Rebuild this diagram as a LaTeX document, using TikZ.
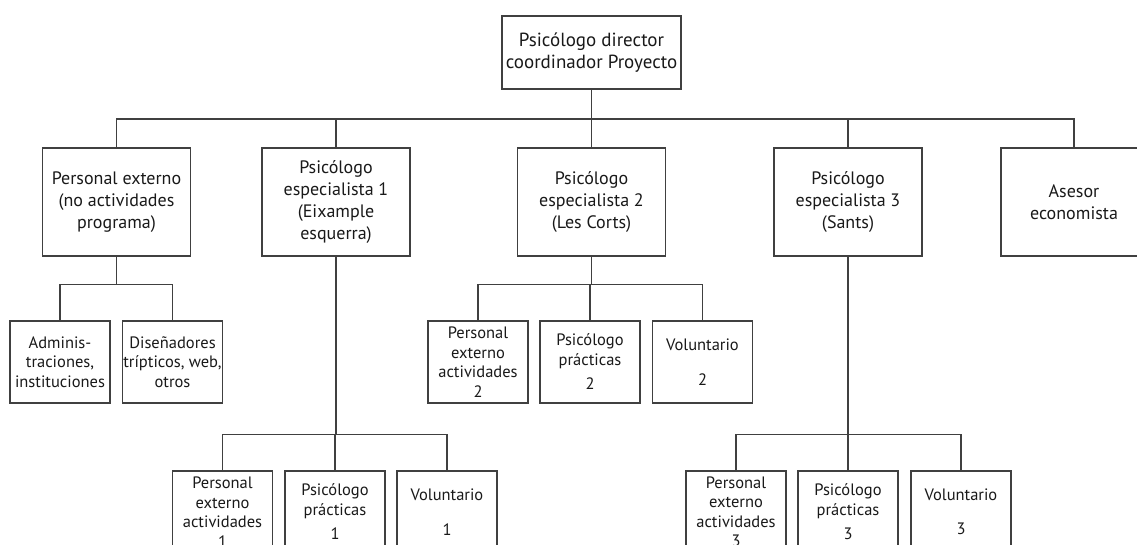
\documentclass[tikz,border=0pt]{standalone}
\usepackage{fontspec}
\setmainfont{PT Sans}
\begin{document}
\begin{tikzpicture}[x=1pt,y=-1pt,
  box/.style={draw=black!75,line width=1.2pt,align=center,inner sep=0pt,
    text=black!90},
  bigbox/.style={box,minimum width=148pt,minimum height=108pt,
    font=\fontsize{18}{22}\selectfont},
  smallbox/.style={box,minimum width=100pt,minimum height=82pt,
    font=\fontsize{16.5}{19.5}\selectfont},
  conn/.style={draw=black!75,line width=1.2pt}]
\useasboundingbox (0,0) rectangle (1137,545);
\clip (0,0) rectangle (1137,545);
% top
\node[box,minimum width=179pt,minimum height=73pt,font=\fontsize{19}{22}\selectfont] (top) at (591.5,52.5) {Psicólogo director\\coordinador Proyecto};
% level 1
\node[bigbox] (pe) at (116.5,202) {Personal externo\\(no actividades\\programa)};
\node[bigbox] (p1) at (336,202) {Psicólogo\\especialista 1\\(Eixample\\esquerra)};
\node[bigbox] (p2) at (591.5,202) {Psicólogo\\especialista 2\\(Les Corts)};
\node[bigbox] (p3) at (848,202) {Psicólogo\\especialista 3\\(Sants)};
\node[bigbox,minimum width=146pt] (as) at (1074,202) {Asesor\\economista};
% level 2
\node[smallbox] (adm) at (60,362) {Adminis-\\traciones,\\instituciones};
\node[smallbox] (dis) at (172.5,362) {Diseñadores\\trípticos, web,\\otros};
\node[smallbox] (pea2) at (478,362) {Personal\\externo\\actividades\\2};
\node[smallbox] (psp2) at (590,362) {Psicólogo\\prácticas\\[5pt]2};
\node[smallbox] (vol2) at (702.5,362) {Voluntario\\[15pt]2};
% level 3
\node[smallbox] (pea1) at (222.5,512) {Personal\\externo\\actividades\\1};
\node[smallbox] (psp1) at (335,512) {Psicólogo\\prácticas\\[5pt]1};
\node[smallbox] (vol1) at (447,512) {Voluntario\\[15pt]1};
\node[smallbox] (pea3) at (736,512) {Personal\\externo\\actividades\\3};
\node[smallbox] (psp3) at (848,512) {Psicólogo\\prácticas\\[5pt]3};
\node[smallbox] (vol3) at (961,512) {Voluntario\\[15pt]3};
% connectors
\foreach \c in {pe,p1,p2,p3,as} \draw[conn] (top.south) -- ++(0,29.5) -| (\c.north);
\foreach \c in {adm,dis} \draw[conn] (pe.south) -- ++(0,28) -| (\c.north);
\foreach \c in {pea2,psp2,vol2} \draw[conn] (p2.south) -- ++(0,28) -| (\c.north);
\foreach \c in {pea1,psp1,vol1} \draw[conn] (p1.south) -- ++(0,178) -| (\c.north);
\foreach \c in {pea3,psp3,vol3} \draw[conn] (p3.south) -- ++(0,178) -| (\c.north);
\end{tikzpicture}
\end{document}
